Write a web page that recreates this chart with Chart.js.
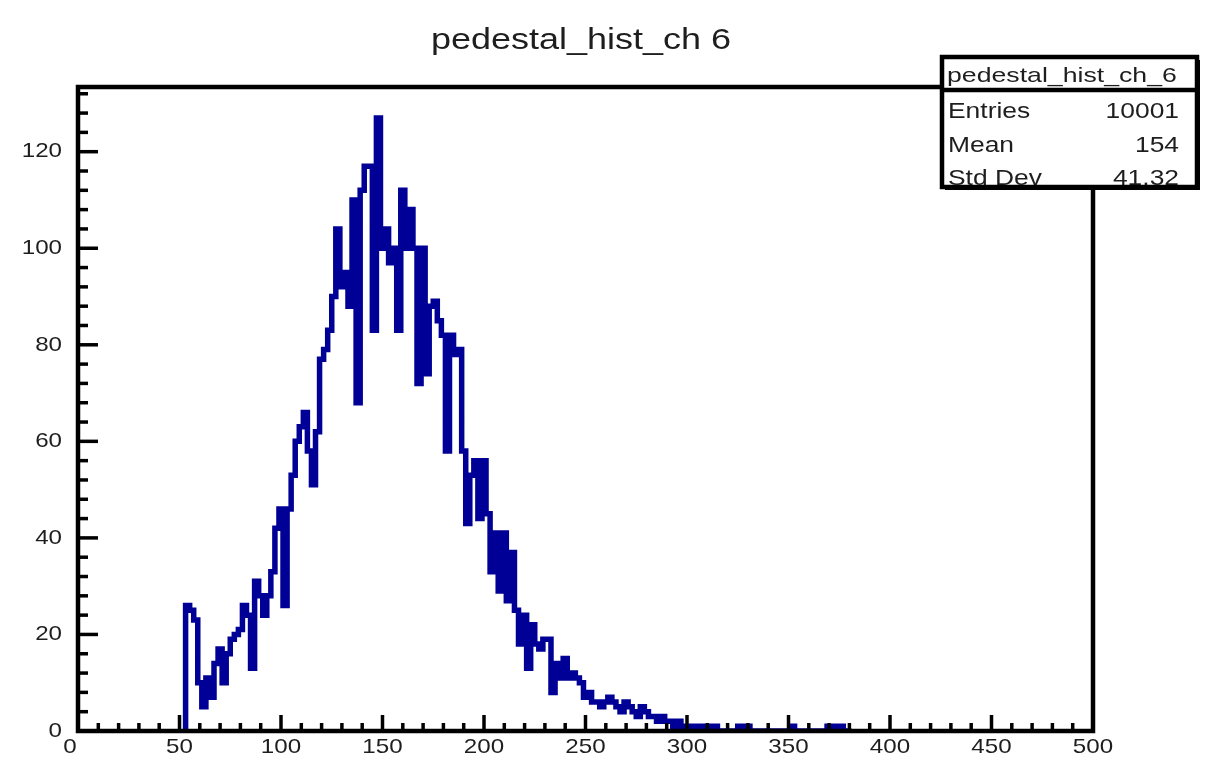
<!DOCTYPE html>
<html>
<head>
<meta charset="utf-8">
<script src="https://cdn.jsdelivr.net/npm/chart.js@4.4.0/dist/chart.umd.min.js"></script>
<style>
  html, body { margin: 0; padding: 0; background: #fff; }
  #wrap { width: 1210px; height: 759px; }
</style>
</head>
<body>
<div id="wrap"><canvas id="histChart" width="1210" height="759"></canvas></div>
<script>
// ROOT style histogram: pedestal_hist_ch 6

var chartTitle = "pedestal_hist_ch 6";
var statsTitle = "pedestal_hist_ch_6";
var statsNames = ["Entries", "Mean", "Std Dev"];
var statsValues = ["10001", "154", "41.32"];

// bins start at 53, width 2 (counts)
var binStart = 53;
var binWidth = 2;
var counts = [
  22, 26, 25, 23, 10, 5, 11, 7, 14, 17,        // 53 - 71
  10, 16, 19, 20, 21, 26, 24, 13, 31, 28,      // 73 - 91
  24, 28, 33, 42, 46, 26, 46, 53, 60, 63,      // 93 - 111
  66, 58, 51, 62, 77, 79, 83, 90, 104, 92,     // 113 - 131
  95, 88, 110, 68, 112, 117, 117, 83, 127, 100, // 133 - 151
  104, 97, 100, 83, 112, 100, 108, 100, 72, 100, // 153 - 171
  74, 88, 89, 85, 82, 58, 82, 78, 79, 58,      // 173 - 191
  43, 53, 56, 44, 56, 45, 33, 41, 29, 41,      // 193 - 211
  27, 37, 25, 18, 24, 13, 22, 18, 17, 19,      // 213 - 231
  19, 8, 14, 11, 15, 11, 12, 11, 10, 7,        // 233 - 251
  8, 6, 6, 5, 6, 7, 6, 5, 4, 6,                // 253 - 271
  5, 4, 3, 5, 4, 3, 3, 2, 3, 2,                // 273 - 291
  2, 1, 2, 1, 1, 0, 1, 1, 0, 1,                // 293 - 311
  1, 1, 0, 0, 0, 0, 0, 1, 0, 1,                // 313 - 331
  0, 0, 0, 0, 0, 0, 0, 0, 0, 0,                // 333 - 351
  1, 0, 0, 0, 0, 0, 0, 0, 0, 1,                // 353 - 371
  0, 1, 1, 0                                   // 373 - 379
];

var xMin = 0, xMax = 500;
var yMin = 0, yMax = 133.4;
var xLabels = [0, 50, 100, 150, 200, 250, 300, 350, 400, 450, 500];
var yLabels = [0, 20, 40, 60, 80, 100, 120];
var xMinorStep = 10;
var yMinorStep = 4;

// step outline points: lower edge of each bin + closing edge
var points = [{ x: binStart, y: 0 }];
counts.forEach(function(c, i) {
  points.push({ x: binStart + i * binWidth, y: c });
});
points.push({ x: binStart + counts.length * binWidth, y: 0 });

var lineColor = "#000096";
var textColor = "#1e1e1e";

function stretchText(ctx, txt, x, y, align, sx) {
  ctx.save();
  ctx.translate(x, y);
  ctx.scale(sx, 1);
  ctx.textAlign = align;
  ctx.fillText(txt, 0, 0);
  ctx.restore();
}

// frame, inward ticks, labels, title and stats box drawn ROOT style
var rootFrame = {
  id: "rootFrame",
  afterDraw: function(chart) {
    var ctx = chart.ctx;
    var a = chart.chartArea;
    var xs = chart.scales.x, ys = chart.scales.y;

    ctx.save();
    ctx.strokeStyle = "#000";
    ctx.lineWidth = 3.5;
    ctx.lineCap = "butt";

    // x ticks (pointing up)
    for (var v = xMin; v <= xMax; v += xMinorStep) {
      var px = xs.getPixelForValue(v);
      var len = (v % 50 === 0) ? 16 : 8;
      ctx.beginPath();
      ctx.moveTo(px, a.bottom);
      ctx.lineTo(px, a.bottom - len);
      ctx.stroke();
    }
    // y ticks (pointing right)
    for (var w = yMin; w <= yMax; w += yMinorStep) {
      var py = ys.getPixelForValue(w);
      var l2 = (w % 20 === 0) ? 20 : 10;
      ctx.beginPath();
      ctx.moveTo(a.left, py);
      ctx.lineTo(a.left + l2, py);
      ctx.stroke();
    }

    // frame
    ctx.lineWidth = 4.5;
    ctx.strokeRect(a.left, a.top, a.right - a.left, a.bottom - a.top);

    // tick labels
    ctx.fillStyle = textColor;
    ctx.font = "21px 'Liberation Sans', Arial, sans-serif";
    ctx.textBaseline = "middle";
    xLabels.forEach(function(v) {
      var off = (v === 0) ? -8 : 0;
      stretchText(ctx, String(v), xs.getPixelForValue(v) + off, a.bottom + 16, "center", 1.15);
    });
    yLabels.forEach(function(v) {
      stretchText(ctx, String(v), a.left - 16, ys.getPixelForValue(v), "right", 1.15);
    });

    // title
    ctx.textBaseline = "alphabetic";
    ctx.font = "30px 'Liberation Sans', Arial, sans-serif";
    stretchText(ctx, chartTitle, 581, 49, "center", 1.2);

    // stats box
    var bx = 942, by = 57, bw = 255, bh = 130;
    ctx.fillStyle = "#000";
    ctx.fillRect(bx + 3, by + 3, bw, bh);
    ctx.fillStyle = "#fff";
    ctx.fillRect(bx, by, bw, bh);

    ctx.save();
    ctx.beginPath();
    ctx.rect(bx, by, bw, bh);
    ctx.clip();
    ctx.fillStyle = textColor;
    ctx.font = "21px 'Liberation Sans', Arial, sans-serif";
    stretchText(ctx, statsTitle, bx + 5, by + 25, "left", 1.27);
    ctx.font = "22px 'Liberation Sans', Arial, sans-serif";
    var rows = [by + 61, by + 95, by + 128];
    statsNames.forEach(function(n, i) {
      stretchText(ctx, n, bx + 6, rows[i], "left", 1.2);
      stretchText(ctx, statsValues[i], bx + bw - 18, rows[i], "right", 1.2);
    });
    ctx.restore();

    ctx.strokeStyle = "#000";
    ctx.lineWidth = 4.5;
    ctx.strokeRect(bx, by, bw, bh);
    ctx.beginPath();
    ctx.moveTo(bx, by + 33);
    ctx.lineTo(bx + bw, by + 33);
    ctx.stroke();

    ctx.restore();
  }
};

var canvas = document.getElementById("histChart");

var histChart = new Chart(canvas, {
  type: "line",
  data: {
    datasets: [
      {
        label: chartTitle,
        data: points,
        borderColor: lineColor,
        backgroundColor: lineColor,
        borderWidth: 5.5,
        stepped: "after",
        pointRadius: 0,
        fill: false,
        tension: 0
      }
    ]
  },
  options: {
    responsive: false,
    animation: false,
    layout: { padding: { top: 87, right: 117, left: 0, bottom: 0 } },
    plugins: {
      legend: { display: false },
      tooltip: { enabled: false },
      title: { display: false }
    },
    scales: {
      x: {
        type: "linear",
        min: xMin,
        max: xMax,
        grid: { display: false },
        border: { display: false },
        ticks: { display: false },
        afterFit: function(s) { s.height = 28; }
      },
      y: {
        type: "linear",
        min: yMin,
        max: yMax,
        grid: { display: false },
        border: { display: false },
        ticks: { display: false },
        afterFit: function(s) { s.width = 78; }
      }
    }
  },
  plugins: [rootFrame]
});
</script>
</body>
</html>
